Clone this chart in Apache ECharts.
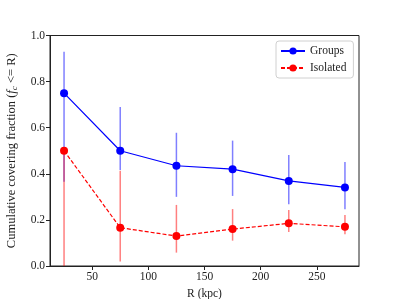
<!DOCTYPE html>
<html>
<head>
<meta charset="utf-8">
<script src="https://cdn.jsdelivr.net/npm/echarts@6/dist/echarts.min.js"></script>
<style>html,body{margin:0;padding:0;background:#fff;}#c{width:399px;height:299px;}</style>
</head>
<body>
<div id="c"></div>
<script>
const radii = [25, 75, 125, 175, 225, 275];
const groupsVal = [0.75, 0.50, 0.435, 0.42, 0.369, 0.341];
const groupsLo  = [0.366, 0.416, 0.30, 0.304, 0.268, 0.246];
const groupsHi  = [0.93, 0.69, 0.578, 0.544, 0.482, 0.451];
const isoVal = [0.50, 0.166, 0.130, 0.160, 0.185, 0.170];
const isoLo  = [0.0, 0.019, 0.058, 0.11, 0.148, 0.138];
const isoHi  = [0.50, 0.413, 0.265, 0.247, 0.243, 0.221];
const xTicks = [50, 100, 150, 200, 250];
const yTicks = [0, 0.2, 0.4, 0.6, 0.8, 1.0];

const FONT = 'Liberation Serif';
const chart = echarts.init(document.getElementById('c'));

function errSeries(name, lo, hi, color) {
  return {
    type: 'custom',
    name: name + ' err',
    z: 1,
    silent: true,
    data: radii.map((x, i) => [x, lo[i], hi[i]]),
    encode: { x: 0, y: [1, 2] },
    renderItem: function (params, api) {
      const p1 = api.coord([api.value(0), api.value(1)]);
      const p2 = api.coord([api.value(0), api.value(2)]);
      return {
        type: 'line',
        shape: { x1: p1[0], y1: p1[1], x2: p2[0], y2: p2[1] },
        style: { stroke: color, lineWidth: 1.5, opacity: 0.5 }
      };
    }
  };
}

chart.setOption({
  animation: false,
  backgroundColor: '#fff',
  grid: { left: 50, top: 35.5, right: 40, bottom: 33, outerBoundsMode: 'none', containLabel: false,
    show: true, borderColor: '#222', borderWidth: 1, backgroundColor: 'transparent' },
  legend: {
    orient: 'vertical',
    left: 276, top: 41,
    padding: [4, 7, 4, 4],
    itemGap: 5,
    itemWidth: 24, itemHeight: 9,
    borderColor: '#d0d0d0', borderWidth: 1, borderRadius: 3,
    backgroundColor: '#fff',
    textStyle: { fontFamily: FONT, fontSize: 11.5, color: '#222' },
    data: ['Groups', 'Isolated']
  },
  xAxis: {
    type: 'value', min: 12.5, max: 287.5,
    name: 'R (kpc)', nameLocation: 'middle', nameGap: 21,
    nameTextStyle: { fontFamily: FONT, fontSize: 11.5, color: '#222' },
    axisLine: { show: true, lineStyle: { color: '#222', width: 1 } },
    axisTick: { show: true, inside: false, length: 4, customValues: xTicks, lineStyle: { color: '#222' } },
    axisLabel: { customValues: xTicks, fontFamily: FONT, fontSize: 11.5, color: '#222', margin: 5 },
    splitLine: { show: false }
  },
  yAxis: {
    type: 'value', min: 0, max: 1.0, interval: 0.2,
    name: 'Cumulative covering fraction ({i|f}{s|c} <= R)',
    nameLocation: 'middle', nameGap: 31,
    nameTextStyle: { fontFamily: FONT, fontSize: 12.5, color: '#222',
      rich: {
        i: { fontFamily: FONT, fontStyle: 'italic', fontSize: 12.5, color: '#222' },
        s: { fontFamily: FONT, fontStyle: 'italic', fontSize: 9, color: '#222', verticalAlign: 'bottom', padding: [5, 0, 0, 0] }
      }
    },
    axisLine: { show: true, lineStyle: { color: '#222', width: 1 } },
    axisTick: { show: true, inside: false, length: 4, lineStyle: { color: '#222' } },
    axisLabel: { fontFamily: FONT, fontSize: 11.5, color: '#222', margin: 5, formatter: v => v.toFixed(1) },
    splitLine: { show: false }
  },
  series: [
    errSeries('Groups', groupsLo, groupsHi, '#0000ff'),
    errSeries('Isolated', isoLo, isoHi, '#ff0000'),
    {
      type: 'line', name: 'Groups', z: 3,
      data: radii.map((x, i) => [x, groupsVal[i]]),
      symbol: 'circle', symbolSize: 8, showSymbol: true,
      lineStyle: { color: '#0000ff', width: 1.2 },
      itemStyle: { color: '#0000ff' }
    },
    {
      type: 'line', name: 'Isolated', z: 3,
      data: radii.map((x, i) => [x, isoVal[i]]),
      symbol: 'circle', symbolSize: 8, showSymbol: true,
      lineStyle: { color: '#ff0000', width: 1.2, type: [4, 2] },
      itemStyle: { color: '#ff0000' }
    }
  ]
});
</script>
</body>
</html>
